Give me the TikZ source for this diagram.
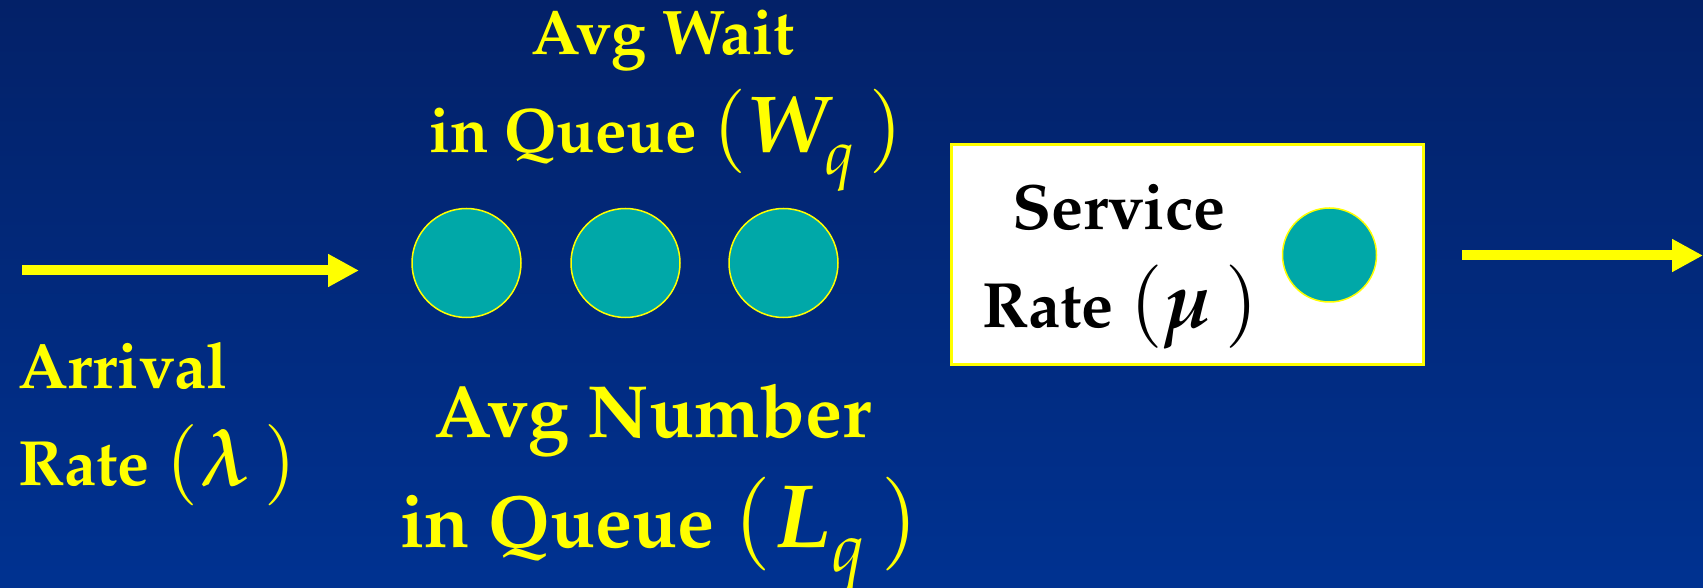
\documentclass[tikz,border=0pt]{standalone}
\usepackage[T1]{fontenc}
\usepackage{mathpazo}
\usepackage{bm}
\usetikzlibrary{arrows.meta}
\definecolor{bgtop}{RGB}{3,33,104}
\definecolor{bgbot}{RGB}{0,50,145}
\definecolor{ylw}{RGB}{255,255,0}
\definecolor{custteal}{RGB}{0,168,168}
\tikzset{
  cust/.style={circle,fill=custteal,draw=ylw,line width=1.5pt,minimum size=109pt,inner sep=0pt},
  lbl/.style={text=ylw,font=\bfseries,inner sep=0pt},
  flow/.style={draw=ylw,line width=10pt,-{Triangle[length=31pt,width=31pt]}},
  servbox/.style={rectangle,fill=white,draw=ylw,line width=3pt,minimum width=472pt,minimum height=220pt,inner sep=0pt}
}
\newcommand{\fs}[1]{\fontsize{#1}{#1}\selectfont}
\newcommand{\lowsub}[1]{_{\raisebox{-0.12em}{$\scriptstyle #1$}}}
\begin{document}
\begin{tikzpicture}[x=1pt,y=1pt]
\fill[top color=bgtop,bottom color=bgbot] (0,0) rectangle (1703,587);
\useasboundingbox (0,0) rectangle (1703,587);
% queue customers
\node[cust] (c1) at (466.5,324) {};
\node[cust] (c2) at (625.5,324) {};
\node[cust] (c3) at (783.5,324) {};
% service box
\node[servbox] (box) at (1187,332) {};
\node[cust,minimum size=94pt] (cs) at (1329.5,332) {};
% arrows
\coordinate (a1s) at (22,316.5);
\coordinate (a1e) at (359,316.5);
\coordinate (a2s) at (1462,331.5);
\coordinate (a2e) at (1703,331.5);
\draw[flow] (a1s) -- (a1e);
\draw[flow] (a2s) -- (a2e);
% labels
\node[lbl,anchor=base] (aw) at (663,532) {\fs{63}Avg Wait};
\node[lbl,anchor=base west] (wq) at (429,434) {\fs{63}in Queue {\fs{81}\mdseries$(\bm{W}\lowsub{q}\,)$}};
\node[lbl,anchor=base west] (ar) at (18,199) {\fs{64}Arrival};
\node[lbl,anchor=base west] (rl) at (18,102) {\fs{64}Rate {\fs{78}\mdseries$(\bm{\lambda}\,)$}};
\node[lbl,anchor=base] (an) at (653,150) {\fs{74}Avg Number};
\node[lbl,anchor=base west] (lq) at (400,40) {\fs{74}in Queue {\fs{90}\mdseries$(\bm{L}\lowsub{q}\,)$}};
\node[lbl,text=black,anchor=base] (sv) at (1119,357) {\fs{64}Service};
\node[lbl,text=black,anchor=base west] (rm) at (982,259) {\fs{64}Rate {\fs{80}\mdseries$(\bm{\mu}\,)$}};
\end{tikzpicture}
\end{document}
